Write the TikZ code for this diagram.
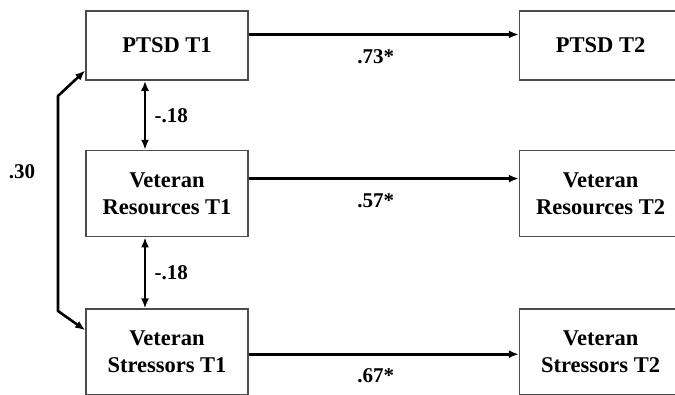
\documentclass[tikz,border=0pt]{standalone}
\usepackage{fontspec}
\setmainfont{Liberation Serif}
\usetikzlibrary{arrows.meta,positioning}
\tikzset{
  var/.style   = {draw=black!70, line width=1.6pt, minimum width=162pt,
                  align=center, font=\fontsize{22.5}{27}\selectfont\bfseries},
  short/.style = {var, minimum height=69pt},
  tall/.style  = {var, minimum height=86pt},
  path/.style  = {line width=2.6pt, -{Latex[length=10pt,width=8pt]}},
  twoway/.style = {line width=2.6pt, line join=round,
                  {Latex[length=10pt,width=8pt]}-{Latex[length=10pt,width=8pt]}},
  coef/.style  = {font=\fontsize{21}{25}\selectfont\bfseries}
}

\begin{document}
\begin{tikzpicture}[x=1pt,y=1pt]
\useasboundingbox (0,0) rectangle (675,394);
\clip (0,0) rectangle (675,394);

% time 1, left column
\node[short] (p1) at (167,348.5) {PTSD T1};
\node[tall, below=69pt of p1] (r1) {Veteran\\Resources T1};
\node[tall, below=71pt of r1] (s1) {Veteran\\Stressors T1};

% time 2, right column
\node[short, right=270pt of p1] (p2) {PTSD T2};
\node[tall, right=270pt of r1] (r2) {Veteran\\Resources T2};
\node[tall, right=270pt of s1] (s2) {Veteran\\Stressors T2};

% stability paths
\draw[path] ([yshift=11pt]p1.east) -- node[coef, pos=0.47, below=10pt] {.73*} ([yshift=11pt]p2.west);
\draw[path] ([yshift=15pt]r1.east) -- node[coef, pos=0.47, below=10pt] {.57*} ([yshift=15pt]r2.west);
\draw[path] ([yshift=-2pt]s1.east) -- node[coef, pos=0.47, below=10pt] {.67*} ([yshift=-2pt]s2.west);

% correlations at time 1
\draw[twoway] ([xshift=-22pt]p1.south) -- node[coef, right=5pt] {-.18} ([xshift=-22pt]r1.north);
\draw[twoway] ([xshift=-22pt]r1.south) -- node[coef, right=5pt] {-.18} ([xshift=-22pt]s1.north);

\coordinate (cortop) at (58,298);
\coordinate (corbot) at (58,83);
\draw[twoway] ([yshift=-25pt]p1.west) -- (cortop) -- (corbot) -- ([yshift=22pt]s1.west);
\node[coef] (c30) at (22,222) {.30};

\end{tikzpicture}
\end{document}
